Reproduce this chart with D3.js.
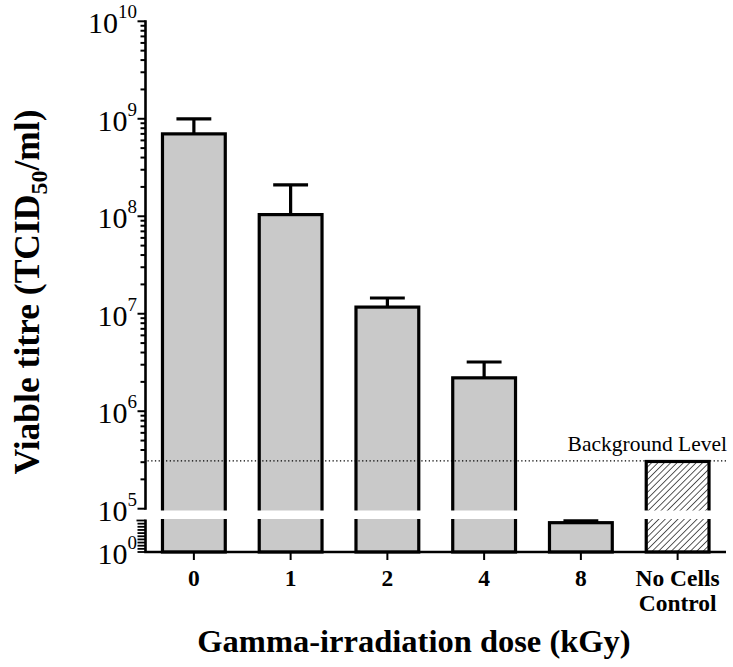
<!DOCTYPE html>
<html>
<head>
<meta charset="utf-8">
<script src="https://cdn.jsdelivr.net/npm/d3@7"></script>
<style>
  body { margin: 0; background: #fff; }
  svg text { font-family: "Liberation Serif", "Times New Roman", serif; fill: #000; }
</style>
</head>
<body>
<svg id="chart" width="733" height="667"></svg>
<script>
// data
var categories = ["0", "1", "2", "4", "8", "No Cells|Control"];
var means      = [7.0e8, 1.04e8, 1.17e7, 2.2e6, 4.5e4, 3.05e5];
var errTops    = [1.0e9, 2.1e8, 1.45e7, 3.2e6, 8.5e4, null];
var hatched    = [false, false, false, false, false, true];
var backgroundLevel = 3.1e5;
var topExponents = [5, 6, 7, 8, 9, 10];
var lowerTickExponents = [0, 0.5, 1, 1.5, 2, 2.5, 3, 3.5, 4, 4.5, 5];
var lowerLabelExponents = [0];

var svg = d3.select("#chart");

var axisX = 145.5, baseY = 552;

// segmented y axis: top log segment and a squashed lower segment
var yTop = d3.scaleLog().domain([1e5, 1e10]).range([508.7, 21.3]);
var yLow = d3.scaleLog().domain([1, 1e5]).range([baseY, 520.5]);
function y(v) { return v >= 1e5 ? yTop(v) : yLow(v); }

var x = d3.scaleBand().domain(categories).range([axisX, 726])
    .paddingInner(0.32).paddingOuter(0.16);

// hatch pattern
var defs = svg.append("defs");
var pat = defs.append("pattern")
    .attr("id", "hatch")
    .attr("patternUnits", "userSpaceOnUse")
    .attr("width", 4.5).attr("height", 4.5)
    .attr("patternTransform", "rotate(45)");
pat.append("rect").attr("width", 4.5).attr("height", 4.5).attr("fill", "#fff");
pat.append("line").attr("x1", 0).attr("y1", 0).attr("x2", 0).attr("y2", 4.5)
    .attr("stroke", "#000").attr("stroke-width", 1.3);

// bars
svg.append("g").selectAll("rect")
  .data(categories)
  .enter().append("rect")
    .attr("x", function(d) { return x(d) + 1.5; })
    .attr("width", x.bandwidth() - 3)
    .attr("y", function(d, i) { return y(means[i]); })
    .attr("height", function(d, i) { return baseY - y(means[i]); })
    .attr("fill", function(d, i) { return hatched[i] ? "url(#hatch)" : "#c9c9c9"; })
    .attr("stroke", "#000")
    .attr("stroke-width", 3.2);

// white gap for axis break
svg.append("rect")
    .attr("x", axisX + 1.5).attr("y", yTop(1e5) + 1.8)
    .attr("width", 733 - axisX).attr("height", 519 - yTop(1e5) - 1.8)
    .attr("fill", "#fff");

// background level line
svg.append("line")
    .attr("x1", axisX + 2).attr("x2", 726)
    .attr("y1", y(backgroundLevel)).attr("y2", y(backgroundLevel))
    .attr("stroke", "#000").attr("stroke-width", 1.3)
    .attr("stroke-dasharray", "1.3,2.4");
svg.append("text")
    .attr("x", 727).attr("y", y(backgroundLevel) - 10)
    .attr("text-anchor", "end")
    .style("font-size", "21.5px")
    .text("Background Level");

// error bars (upper only)
var capW = x.bandwidth() * 0.53;
var eb = svg.append("g").selectAll("g")
  .data(categories.filter(function(d, i) { return errTops[i] !== null; }))
  .enter().append("g");
eb.append("line")
    .attr("x1", function(d) { return x(d) + x.bandwidth() / 2; })
    .attr("x2", function(d) { return x(d) + x.bandwidth() / 2; })
    .attr("y1", function(d) { return y(means[categories.indexOf(d)]); })
    .attr("y2", function(d) { return y(errTops[categories.indexOf(d)]); })
    .attr("stroke", "#000").attr("stroke-width", 3.2);
eb.append("line")
    .attr("x1", function(d) { return x(d) + x.bandwidth() / 2 - capW / 2; })
    .attr("x2", function(d) { return x(d) + x.bandwidth() / 2 + capW / 2; })
    .attr("y1", function(d) { return y(errTops[categories.indexOf(d)]); })
    .attr("y2", function(d) { return y(errTops[categories.indexOf(d)]); })
    .attr("stroke", "#000").attr("stroke-width", 3.2);

// y axis - top segment
function isDecade(d) {
  var l = Math.log10(d);
  return Math.abs(l - Math.round(l)) < 1e-9;
}
var ya = svg.append("g");
ya.append("line")
    .attr("x1", axisX).attr("x2", axisX)
    .attr("y1", yTop(1e10) - 1).attr("y2", yTop(1e5) + 1)
    .attr("stroke", "#000").attr("stroke-width", 2.6);
ya.selectAll("line.tk")
  .data(yTop.ticks())
  .enter().append("line")
    .attr("class", "tk")
    .attr("x1", function(d) { return isDecade(d) ? axisX - 8 : axisX - 5; })
    .attr("x2", axisX)
    .attr("y1", function(d) { return yTop(d); })
    .attr("y2", function(d) { return yTop(d); })
    .attr("stroke", "#000").attr("stroke-width", 2);

// y axis - lower segment
ya.append("line")
    .attr("x1", axisX).attr("x2", axisX)
    .attr("y1", yLow(1e5) - 1).attr("y2", baseY)
    .attr("stroke", "#000").attr("stroke-width", 2.6);
ya.selectAll("line.lk")
  .data(lowerTickExponents)
  .enter().append("line")
    .attr("class", "lk")
    .attr("x1", function(d) { return d === 5 ? axisX - 9 : axisX - 8; })
    .attr("x2", axisX)
    .attr("y1", function(d) { return yLow(Math.pow(10, d)); })
    .attr("y2", function(d) { return yLow(Math.pow(10, d)); })
    .attr("stroke", "#000").attr("stroke-width", 1.8);

// y tick labels with superscripts
function powLabel(sel, yy) {
  sel.each(function(e) {
    var t = d3.select(this).append("text")
        .attr("x", 137).attr("y", yy(Math.pow(10, e)) + 12)
        .attr("text-anchor", "end")
        .style("font-size", "30px");
    t.append("tspan").text("10");
    t.append("tspan").attr("dy", -15).style("font-size", "19px").text(e);
  });
}
ya.selectAll("g.tl").data(topExponents).enter().append("g").attr("class", "tl")
    .call(powLabel, yTop);
ya.selectAll("g.ll").data(lowerLabelExponents).enter().append("g").attr("class", "ll")
    .call(powLabel, yLow);

// x axis
var xa = svg.append("g");
xa.append("line")
    .attr("x1", axisX - 1.3).attr("x2", 726)
    .attr("y1", baseY).attr("y2", baseY)
    .attr("stroke", "#000").attr("stroke-width", 2.6);
xa.selectAll("line.xt")
  .data(categories)
  .enter().append("line")
    .attr("class", "xt")
    .attr("x1", function(d) { return x(d) + x.bandwidth() / 2; })
    .attr("x2", function(d) { return x(d) + x.bandwidth() / 2; })
    .attr("y1", baseY).attr("y2", baseY + 8)
    .attr("stroke", "#000").attr("stroke-width", 2);
xa.selectAll("text.xl")
  .data(categories)
  .enter().append("text")
    .attr("class", "xl")
    .attr("text-anchor", "middle")
    .style("font-size", "23.5px").style("font-weight", "bold")
    .each(function(d) {
      var t = d3.select(this), cx = x(d) + x.bandwidth() / 2;
      d.split("|").forEach(function(s, k) {
        t.append("tspan").attr("x", cx).attr("y", 586 + k * 25).text(s);
      });
    });

// axis titles
svg.append("text")
    .attr("x", 414).attr("y", 652)
    .attr("text-anchor", "middle")
    .style("font-size", "32.5px").style("font-weight", "bold")
    .text("Gamma-irradiation dose (kGy)");

var yt = svg.append("text")
    .attr("transform", "translate(39,292) rotate(-90)")
    .attr("text-anchor", "middle")
    .style("font-size", "35.5px").style("font-weight", "bold");
yt.append("tspan").text("Viable titre (TCID");
yt.append("tspan").attr("dy", 8).style("font-size", "24px").text("50");
yt.append("tspan").attr("dy", -8).text("/ml)");
</script>
</body>
</html>
